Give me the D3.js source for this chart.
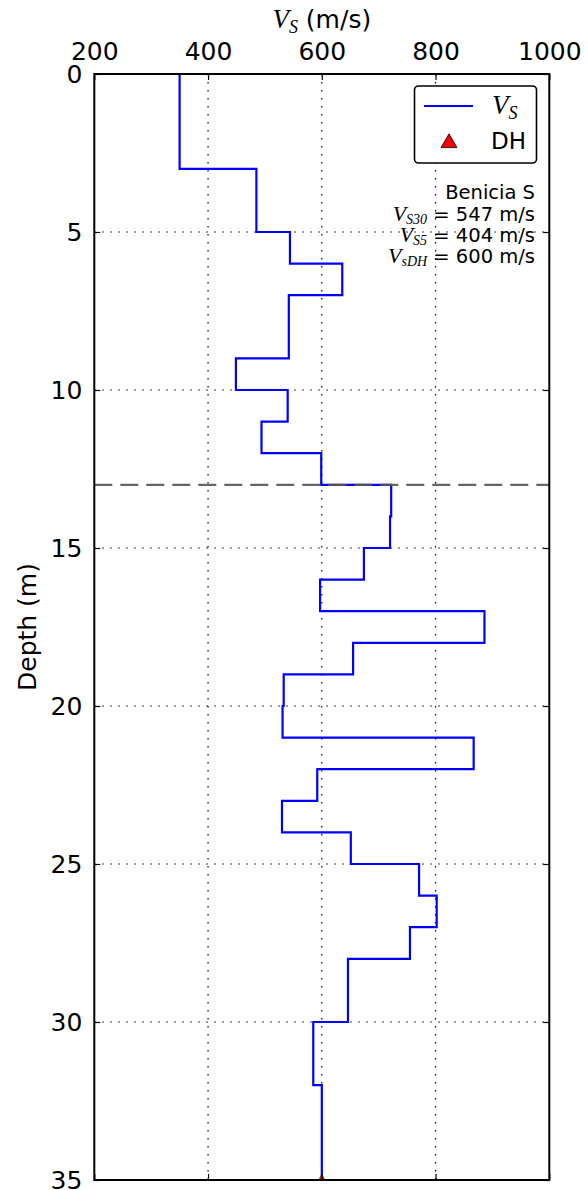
<!DOCTYPE html>
<html>
<head>
<meta charset="utf-8">
<script src="https://cdn.jsdelivr.net/npm/d3@7"></script>
<style>
  html, body { margin: 0; padding: 0; background: #fff; }
  svg { display: block; }
  text { font-family: "DejaVu Sans", sans-serif; fill: #000; }
  .math { font-family: "Liberation Serif", "DejaVu Serif", serif; font-style: italic; }
</style>
</head>
<body>
<svg id="chart" width="588" height="1190"></svg>
<script>
// Layer boundaries (m) and shear-wave velocity of each layer (m/s)
const layerDepths = [0, 3, 5, 6, 7, 9, 10, 11, 12, 13, 14, 15, 16, 17, 18, 19, 20, 21, 22, 23, 24, 25, 26, 27, 28, 30, 32, 35];
const layerVs     = [350, 485, 544, 636, 542, 449, 540, 494, 599, 722, 720, 674, 597, 886, 655, 533, 531, 867, 592, 530, 651, 771, 802, 755, 646, 585, 600];

// Downhole measurement
const dhVs = [600];
const dhDepth = [35];

// Reference depth marked by the dashed line
const refDepth = [13];

// Axis ticks
const xTicks = [200, 400, 600, 800, 1000];
const yTicks = [0, 5, 10, 15, 20, 25, 30, 35];

// Site annotation lines
const siteName = "Benicia S";
const statLabels = [["S30", "547"], ["S5", "404"], ["sDH", "600"]];

const svg = d3.select("#chart");
const L = 94.3, R = 549.3, T = 74, B = 1180;

const x = d3.scaleLinear().domain([200, 1000]).range([L, R]);
const y = d3.scaleLinear().domain([0, 35]).range([T, B]);

svg.append("defs").append("clipPath").attr("id", "plotClip")
  .append("rect").attr("x", L).attr("y", T).attr("width", R - L).attr("height", B - T);

// Dotted grid
const grid = svg.append("g");
grid.selectAll("line.gx").data(xTicks.slice(1, -1)).join("line")
  .attr("x1", d => x(d)).attr("x2", d => x(d)).attr("y1", T).attr("y2", B)
  .attr("stroke", "#000").attr("stroke-width", 1.2).attr("stroke-dasharray", "1.5,6.5");
grid.selectAll("line.gy").data(yTicks.slice(1, -1)).join("line")
  .attr("x1", L).attr("x2", R).attr("y1", d => y(d)).attr("y2", d => y(d))
  .attr("stroke", "#000").attr("stroke-width", 1.2).attr("stroke-dasharray", "1.5,6.5");

// Staircase profile
const pts = [];
layerVs.forEach((v, i) => {
  pts.push([v, layerDepths[i]]);
  pts.push([v, layerDepths[i + 1]]);
});
const line = d3.line().x(d => x(d[0])).y(d => y(d[1]));
svg.append("path").datum(pts)
  .attr("clip-path", "url(#plotClip)")
  .attr("d", line).attr("fill", "none")
  .attr("stroke", "#0000ff").attr("stroke-width", 2.2);

// Reference depth dashed line
svg.selectAll("line.ref").data(refDepth).join("line")
  .attr("x1", L).attr("x2", R).attr("y1", d => y(d)).attr("y2", d => y(d))
  .attr("stroke", "#555").attr("stroke-opacity", 0.9).attr("stroke-width", 2.2)
  .attr("stroke-dasharray", "18,8");

// Downhole marker
const tri = d3.symbol().type(d3.symbolTriangle).size(40);
svg.append("g").attr("clip-path", "url(#plotClip)")
  .selectAll("path").data(dhVs).join("path")
  .attr("d", tri)
  .attr("transform", (d, i) => `translate(${x(d)},${y(dhDepth[i])})`)
  .attr("fill", "#ff0000").attr("stroke", "#000").attr("stroke-width", 0.5);

// Axes (ticks pointing inward on all four sides)
const tickLen = 6;
const axT = svg.append("g").attr("transform", `translate(0,${T})`)
  .call(d3.axisTop(x).tickValues(xTicks).tickSize(-tickLen).tickPadding(14).tickFormat(d3.format("d")));
const axB = svg.append("g").attr("transform", `translate(0,${B})`)
  .call(d3.axisBottom(x).tickValues(xTicks).tickSize(-tickLen).tickFormat(""));
const axL = svg.append("g").attr("transform", `translate(${L},0)`)
  .call(d3.axisLeft(y).tickValues(yTicks).tickSize(-tickLen).tickPadding(12));
const axR = svg.append("g").attr("transform", `translate(${R},0)`)
  .call(d3.axisRight(y).tickValues(yTicks).tickSize(-tickLen).tickFormat(""));
[axT, axB, axL, axR].forEach(a => {
  a.select(".domain").remove();
  a.selectAll(".tick line").attr("stroke", "#000").attr("stroke-width", 1.2);
  a.selectAll(".tick text").attr("font-family", "DejaVu Sans").attr("font-size", 25).attr("fill", "#000");
});

// Frame
svg.append("rect").attr("x", L).attr("y", T).attr("width", R - L).attr("height", B - T)
  .attr("fill", "none").attr("stroke", "#000").attr("stroke-width", 2);

// Axis titles
const xt = svg.append("text").attr("x", (L + R) / 2).attr("y", 28)
  .attr("text-anchor", "middle").attr("font-size", 25);
xt.append("tspan").attr("class", "math").attr("font-size", 27).text("V");
xt.append("tspan").attr("class", "math").attr("font-size", 18).attr("dy", 5).text("S");
xt.append("tspan").attr("dy", -5).text(" (m/s)");

svg.append("text")
  .attr("transform", `translate(36,${(T + B) / 2}) rotate(-90)`)
  .attr("text-anchor", "middle").attr("font-size", 25).text("Depth (m)");

// Legend
const lg = svg.append("g");
lg.append("rect").attr("x", 414.5).attr("y", 86).attr("width", 122).attr("height", 77)
  .attr("rx", 4).attr("fill", "#fff").attr("stroke", "#000").attr("stroke-width", 1.6);
lg.append("line").attr("x1", 424).attr("x2", 473).attr("y1", 106).attr("y2", 106)
  .attr("stroke", "#0000ff").attr("stroke-width", 2.2);
const lv = lg.append("text").attr("x", 492).attr("y", 114);
lv.append("tspan").attr("class", "math").attr("font-size", 27).text("V");
lv.append("tspan").attr("class", "math").attr("font-size", 18).attr("dy", 5).text("S");
lg.append("path").attr("d", d3.symbol().type(d3.symbolTriangle).size(110))
  .attr("transform", "translate(449,143)")
  .attr("fill", "#ff0000").attr("stroke", "#000").attr("stroke-width", 0.8);
lg.append("text").attr("x", 491).attr("y", 149).attr("font-size", 23).text("DH");

// Site annotation
const ax = 535;
svg.append("text").attr("x", ax).attr("y", 199).attr("text-anchor", "end")
  .attr("font-size", 19.5).text(siteName);
statLabels.forEach((s, i) => {
  const t = svg.append("text").attr("x", ax).attr("y", 221 + i * 21)
    .attr("text-anchor", "end").attr("font-size", 19.5);
  t.append("tspan").attr("class", "math").attr("font-size", 22).text("V");
  t.append("tspan").attr("class", "math").attr("font-size", 14).attr("dy", 3).text(s[0]);
  t.append("tspan").attr("dy", -3).text(` = ${s[1]} m/s`);
});
</script>
</body>
</html>
